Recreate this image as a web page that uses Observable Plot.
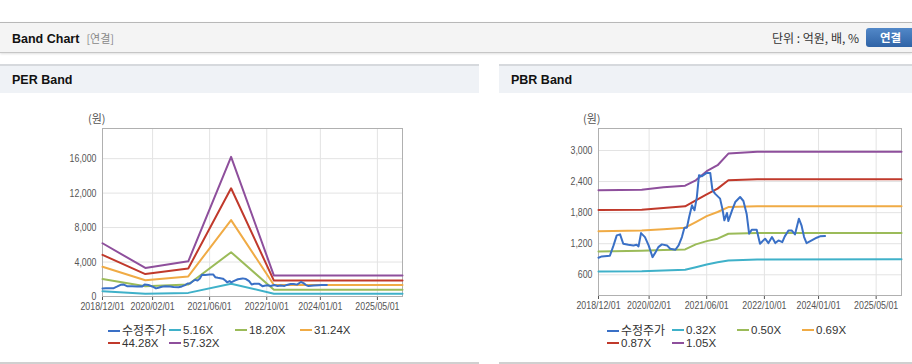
<!DOCTYPE html>
<html><head><meta charset="utf-8">
<script src="https://cdn.jsdelivr.net/npm/d3@7"></script>
<script src="https://cdn.jsdelivr.net/npm/@observablehq/plot@0.6"></script>
<style>
body{margin:0;width:912px;height:364px;position:relative;overflow:hidden;background:#fff;font-family:"Liberation Sans",Arial,"Noto Sans CJK KR",sans-serif;color:#222;}
.abs{position:absolute;}
#topbar{left:0;top:22px;width:912px;height:29px;background:#f4f4f4;border-top:1px solid #b8b8b8;border-bottom:1px solid #c6c6c6;box-shadow:0 1px 2px rgba(0,0,0,0.12);}
#title{left:12px;top:30px;font-size:12.5px;font-weight:bold;color:#111;white-space:nowrap;}
#title span{font-weight:normal;color:#888;font-family:"Noto Sans CJK KR",sans-serif;font-size:11px;margin-left:7px;}
#unit{right:53px;top:30px;font-size:12px;color:#333;font-family:"Noto Sans CJK KR",sans-serif;white-space:nowrap;line-height:16px;}
#btn{left:866px;top:28px;width:52px;height:19px;border-radius:3px;background:linear-gradient(#5288c8,#2f63a6);color:#fff;font-weight:bold;font-size:11.5px;font-family:"Noto Sans CJK KR",sans-serif;line-height:19px;text-indent:14px;}
.panel{top:64px;height:296px;border-top:2px solid #d6d9dd;border-bottom:2px solid #d0d0d0;background:#fff;}
.phead{left:0;top:0;right:0;height:27px;background:#eff2f6;}
.ptitle{left:12px;top:7px;font-size:12.5px;font-weight:bold;color:#111;white-space:nowrap;}
.unitlbl{font-size:11px;color:#555;font-family:"Noto Sans CJK KR",sans-serif;}
.leg{font-size:11.5px;color:#333;white-space:nowrap;line-height:12px;height:12px;}
.leg i{display:inline-block;width:12px;height:2px;vertical-align:middle;margin-right:2px;position:relative;top:-1px;}
.leg span{line-height:12px;}
.leg .k{font-family:"Noto Sans CJK KR",sans-serif;font-size:12px;}
</style></head>
<body>
<div id="topbar" class="abs"></div>
<div id="title" class="abs">Band Chart<span>[연결]</span></div>
<div id="unit" class="abs">단위 : 억원, 배, %</div>
<div id="btn" class="abs">연결</div>
<div class="abs panel" style="left:0;width:479px;"><div class="abs phead"></div><div class="abs ptitle">PER Band</div></div>
<div class="abs panel" style="left:499px;width:413px;"><div class="abs phead"></div><div class="abs ptitle">PBR Band</div></div>
<div class="abs unitlbl" style="left:88px;top:110px;">(원)</div>
<div class="abs unitlbl" style="left:583px;top:110px;">(원)</div>
<div id="perChart" class="abs" style="left:0;top:100px;"></div>
<div id="pbrChart" class="abs" style="left:499px;top:100px;"></div>
<div id="perLegend"></div>
<div id="pbrLegend"></div>
<script>
// ---- shared axis data ----
const xTickLabels = ["2018/12/01","2020/02/01","2021/06/01","2022/10/01","2024/01/01","2025/05/01"];
const xDomain = ["2018-12-01","2025-12-01"];

// ---- adjusted share price (수정주가) ----
const priceDates = ["2018-12-01","2018-12-29","2019-03-07","2019-04-07","2019-05-04","2019-06-01","2019-06-28","2019-08-10","2019-09-22","2019-10-19","2019-11-04","2019-11-25","2019-12-28","2020-01-28","2020-03-01","2020-03-22","2020-04-19","2020-05-19","2020-07-01","2020-07-28","2020-09-10","2020-10-07","2020-11-04","2020-11-25","2020-12-16","2021-01-04","2021-01-28","2021-02-18","2021-03-10","2021-03-28","2021-04-22","2021-06-01","2021-07-01","2021-07-19","2021-08-10","2021-09-22","2021-10-13","2021-10-28","2021-11-19","2021-12-01","2022-01-01","2022-01-28","2022-03-10","2022-04-07","2022-05-04","2022-05-25","2022-06-16","2022-07-28","2022-08-25","2022-09-22","2022-10-07","2022-11-04","2022-12-04","2023-01-01","2023-01-28","2023-03-01","2023-03-22","2023-04-22","2023-05-19","2023-06-16","2023-07-19","2023-08-10","2023-09-01","2023-09-22","2023-11-04","2023-12-16","2024-01-13","2024-02-25"];
const priceValues = [930,955,968,1167,1361,1380,1200,1181,1167,1181,1148,1405,1328,1167,941,1018,1134,1187,1167,1103,1084,1167,1328,1510,1510,1715,1941,1845,2100,2522,2503,2567,2567,2245,2168,2071,1858,1651,1793,1638,1845,2005,2102,2025,1781,1393,1471,1471,1200,1264,1297,1212,1328,1212,1264,1231,1342,1457,1457,1380,1684,1555,1328,1212,1264,1316,1342,1349];

// ---- PER bands ----
const perBandDates = ["2018-12-01","2019-12-01","2020-12-01","2021-12-01","2022-12-01","2025-12-01"];
const perLabels = ["5.16X","18.20X","31.24X","44.28X","57.32X"];
const per516  = [620, 330, 420, 1480, 320, 320];
const per1820 = [2020, 1180, 1400, 5140, 780, 780];
const per3124 = [3450, 1880, 2330, 8870, 1340, 1340];
const per4428 = [4830, 2600, 3250, 12560, 1850, 1850];
const per5732 = [6180, 3310, 4080, 16210, 2430, 2430];
const perYTicks = [0, 4000, 8000, 12000, 16000];

// ---- PBR bands ----
const pbrBandDates = ["2018-12-01","2019-12-01","2020-06-01","2020-12-01","2021-03-01","2021-06-01","2021-09-01","2021-12-01","2022-08-01","2025-12-01"];
const pbrLabels = ["0.32X","0.50X","0.69X","0.87X","1.05X"];
const pbr032 = [665, 670, 683, 697, 747, 799, 844, 877, 896, 900];
const pbr050 = [1052, 1065, 1080, 1090, 1187, 1250, 1297, 1393, 1405, 1405];
const pbr069 = [1440, 1457, 1480, 1510, 1618, 1734, 1812, 1908, 1922, 1924];
const pbr087 = [1850, 1855, 1889, 1922, 2038, 2154, 2264, 2425, 2444, 2446];
const pbr105 = [2232, 2240, 2290, 2320, 2425, 2600, 2716, 2941, 2975, 2978];
const pbrYTicks = [600, 1200, 1800, 2400, 3000];

const priceLabel = "수정주가";
const colors = ["#3a70c6", "#3fb1c9", "#9bbb59", "#f0ab45", "#c0392b", "#8e4f9c"];

const parse = d3.utcParse("%Y-%m-%d");
const parseTick = d3.utcParse("%Y/%m/%d");
const xTicks = xTickLabels.map(parseTick);
const rows = (dates, vals) => dates.map((d, i) => ({date: parse(d), value: vals[i]}));
const priceRows = rows(priceDates, priceValues);

function chart(bands, yDomain, yTicks, width, margins) {
  return Plot.plot({
    width, height: 225,
    marginLeft: margins[0], marginRight: margins[1], marginTop: margins[2], marginBottom: margins[3],
    style: {fontFamily: '"Liberation Sans",Arial,sans-serif', fontSize: "11px", color: "#555", background: "transparent", overflow: "visible"},
    x: {type: "utc", domain: xDomain.map(parse), ticks: xTicks, tickFormat: d3.utcFormat("%Y/%m/%d"), tickSize: 4, tickPadding: 2, label: null},
    y: {domain: yDomain, ticks: yTicks, tickFormat: d3.format(","), tickSize: 0, tickPadding: 6, label: null},
    marks: [
      Plot.gridX(xTicks, {stroke: "#e3e3e3", strokeOpacity: 1}),
      Plot.gridY(yTicks, {stroke: "#e3e3e3", strokeOpacity: 1}),
      Plot.frame({stroke: "#b0b0b0"}),
      ...bands.map((b, i) => Plot.line(b, {x: "date", y: "value", stroke: colors[i + 1], strokeWidth: 2})),
      Plot.line(priceRows, {x: "date", y: "value", stroke: colors[0], strokeWidth: 2})
    ]
  });
}

// narrow the tick labels (the reference uses a condensed face)
function condense(svg) {
  svg.querySelectorAll('g[aria-label$="tick label"] text').forEach(t => {
    const w = t.getComputedTextLength();
    t.setAttribute("textLength", (w * 0.8).toFixed(1));
    t.setAttribute("lengthAdjust", "spacingAndGlyphs");
  });
}

const perBands = [per516, per1820, per3124, per4428, per5732].map(v => rows(perBandDates, v));
const pbrBands = [pbr032, pbr050, pbr069, pbr087, pbr105].map(v => rows(pbrBandDates, v));

const perSvg = chart(perBands, [0, 19500], perYTicks, 479, [102, 77, 28, 29]);
document.getElementById("perChart").append(perSvg);
condense(perSvg);
const pbrSvg = chart(pbrBands, [200, 3425], pbrYTicks, 413, [99, 11, 28, 30]);
document.getElementById("pbrChart").append(pbrSvg);
condense(pbrSvg);

function legend(id, labels, cols, left, top) {
  const el = document.getElementById(id);
  const names = [priceLabel, ...labels];
  names.forEach((n, i) => {
    const d = document.createElement("div");
    d.className = "abs leg";
    d.style.left = (left + cols[i % 4]) + "px";
    d.style.top = (top + Math.floor(i / 4) * 13) + "px";
    d.innerHTML = `<i style="background:${colors[i]}"></i><span class="${i === 0 ? "k" : ""}">${n}</span>`;
    el.append(d);
  });
}
legend("perLegend", perLabels, [0, 61, 127, 192], 108, 324);
legend("pbrLegend", pbrLabels, [0, 65, 130, 195], 607, 324);
</script>
</body></html>
